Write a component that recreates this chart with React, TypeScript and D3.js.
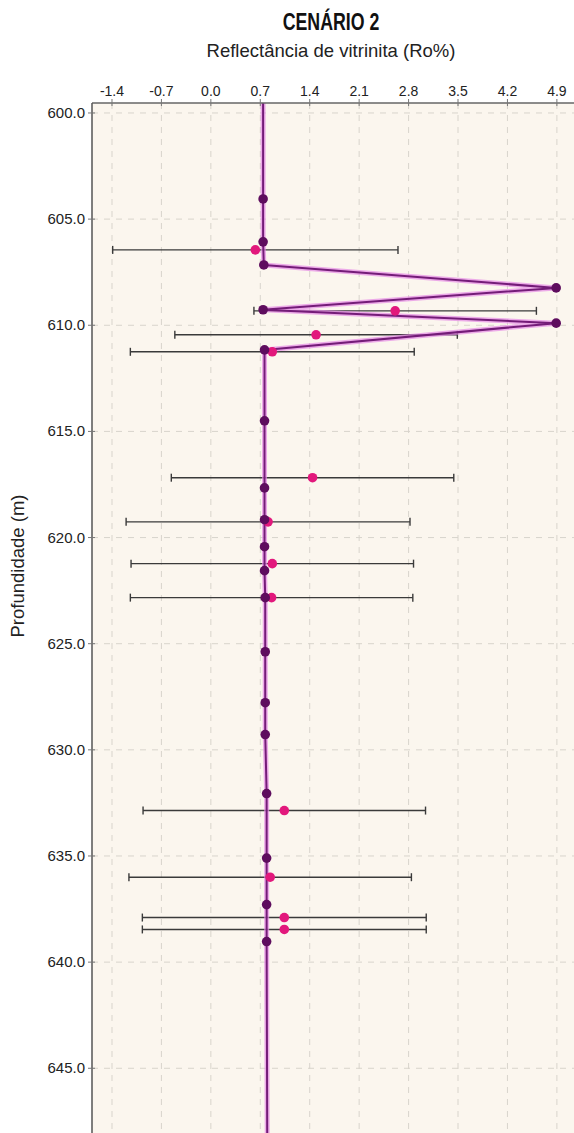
import React from "react";
import * as d3 from "d3";

// Modelled vitrinite reflectance curve (depth in m, Ro %)
const modelDepth = [599.5, 604.05, 606.07, 607.16, 608.24, 609.27, 609.9, 611.16, 614.5, 617.66, 619.16, 620.43, 621.56, 622.83, 625.38, 627.78, 629.28, 632.06, 635.1, 637.29, 639.03, 650];
const modelRo = [0.74, 0.74, 0.74, 0.75, 4.89, 0.74, 4.89, 0.76, 0.76, 0.76, 0.76, 0.76, 0.76, 0.77, 0.77, 0.77, 0.77, 0.79, 0.79, 0.79, 0.79, 0.8];
// Depths where the model value is marked with a dot
const modelMarked = [false, true, true, true, true, true, true, true, true, true, true, true, true, true, true, true, true, true, true, true, true, false];

// Measured samples with their uncertainty (± Ro %)
const obsDepth = [606.45, 609.32, 610.45, 611.25, 617.18, 619.26, 621.23, 622.83, 632.86, 636.0, 637.9, 638.46];
const obsRo = [0.63, 2.61, 1.49, 0.87, 1.44, 0.81, 0.87, 0.86, 1.04, 0.84, 1.04, 1.04];
const obsErr = [2.02, 2.0, 2.0, 2.01, 2.0, 2.01, 2.0, 2.0, 2.0, 2.0, 2.01, 2.01];

const xTicks = [-1.4, -0.7, 0.0, 0.7, 1.4, 2.1, 2.8, 3.5, 4.2, 4.9];
const yTicks = [600, 605, 610, 615, 620, 625, 630, 635, 640, 645];

const W = 574;
const H = 1133;
const left = 92;
const top = 103;
const right = 590;
const bottom = 1150;

export default function App() {
  const x = d3.scaleLinear().domain([-1.683, 5.369]).range([left, right]);
  const y = d3.scaleLinear().domain([599.53, 648.85]).range([top, bottom]);

  const pts = modelDepth.map((d, i) => ({ d, v: modelRo[i], m: modelMarked[i] }));
  const line = d3
    .line<{ d: number; v: number }>()
    .x((p) => x(p.v))
    .y((p) => y(p.d));
  const pathD = line(pts) || "";

  const font = "'Liberation Sans', Arial, sans-serif";

  return (
    <svg
      width={W}
      height={H}
      style={{ position: "absolute", left: 0, top: 0, background: "#ffffff" }}
      fontFamily={font}
    >
      <defs>
        <clipPath id="plotClip">
          <rect x={left} y={top} width={right - left} height={bottom - top} />
        </clipPath>
      </defs>

      <text x={331} y={30} textAnchor="middle" fontSize={24} fontWeight="bold" fill="#111" transform="translate(331,0) scale(0.74,1) translate(-331,0)">
        CENÁRIO 2
      </text>
      <text x={331} y={57} textAnchor="middle" fontSize={18.5} fill="#222">
        Reflectância de vitrinita (Ro%)
      </text>

      <rect x={left} y={top} width={right - left} height={bottom - top} fill="#fbf6ee" />

      <g clipPath="url(#plotClip)">
        {xTicks.map((t) => (
          <line key={"gx" + t} x1={x(t)} x2={x(t)} y1={top} y2={bottom} stroke="#d8d4cc" strokeWidth={1} strokeDasharray="6,6" />
        ))}
        {yTicks.map((t) => (
          <line key={"gy" + t} x1={left} x2={right} y1={y(t)} y2={y(t)} stroke="#d8d4cc" strokeWidth={1} strokeDasharray="6,6" />
        ))}

        {obsDepth.map((d, i) => {
          const yy = y(d);
          const x0 = x(obsRo[i] - obsErr[i]);
          const x1 = x(obsRo[i] + obsErr[i]);
          return (
            <g key={"e" + i} stroke="#3a3a3a" strokeWidth={1.4}>
              <line x1={x0} x2={x1} y1={yy} y2={yy} />
              <line x1={x0} x2={x0} y1={yy - 4} y2={yy + 4} />
              <line x1={x1} x2={x1} y1={yy - 4} y2={yy + 4} />
            </g>
          );
        })}

        <path d={pathD} fill="none" stroke="#e58ae5" strokeWidth={5} strokeOpacity={0.7} strokeLinejoin="round" />
        <path d={pathD} fill="none" stroke="#741c78" strokeWidth={2} strokeLinejoin="round" />

        {obsDepth.map((d, i) => (
          <circle key={"o" + i} cx={x(obsRo[i])} cy={y(d)} r={4.8} fill="#e2187c" />
        ))}
        {pts
          .filter((p) => p.m)
          .map((p, i) => (
            <circle key={"m" + i} cx={x(p.v)} cy={y(p.d)} r={4.8} fill="#5e0d5e" />
          ))}
      </g>

      {/* axes */}
      <line x1={left} x2={right} y1={top} y2={top} stroke="#666" strokeWidth={1.3} />
      <line x1={left} x2={left} y1={top} y2={H} stroke="#555" strokeWidth={1.5} />
      {xTicks.map((t) => (
        <g key={"tx" + t}>
          <line x1={x(t)} x2={x(t)} y1={top - 4} y2={top + 3} stroke="#777" strokeWidth={1} />
          <text x={x(t)} y={top - 7} textAnchor="middle" fontSize={14} fill="#222">
            {t.toFixed(1)}
          </text>
        </g>
      ))}
      {yTicks.map((t) => (
        <g key={"ty" + t}>
          <line x1={left - 4} x2={left + 3} y1={y(t)} y2={y(t)} stroke="#777" strokeWidth={1} />
          <text x={left - 7} y={y(t) + 5} textAnchor="end" fontSize={15} fill="#222">
            {t.toFixed(1)}
          </text>
        </g>
      ))}

      <text
        transform={`translate(24,${566}) rotate(-90)`}
        textAnchor="middle"
        fontSize={18.5}
        fill="#222"
      >
        Profundidade (m)
      </text>
    </svg>
  );
}
